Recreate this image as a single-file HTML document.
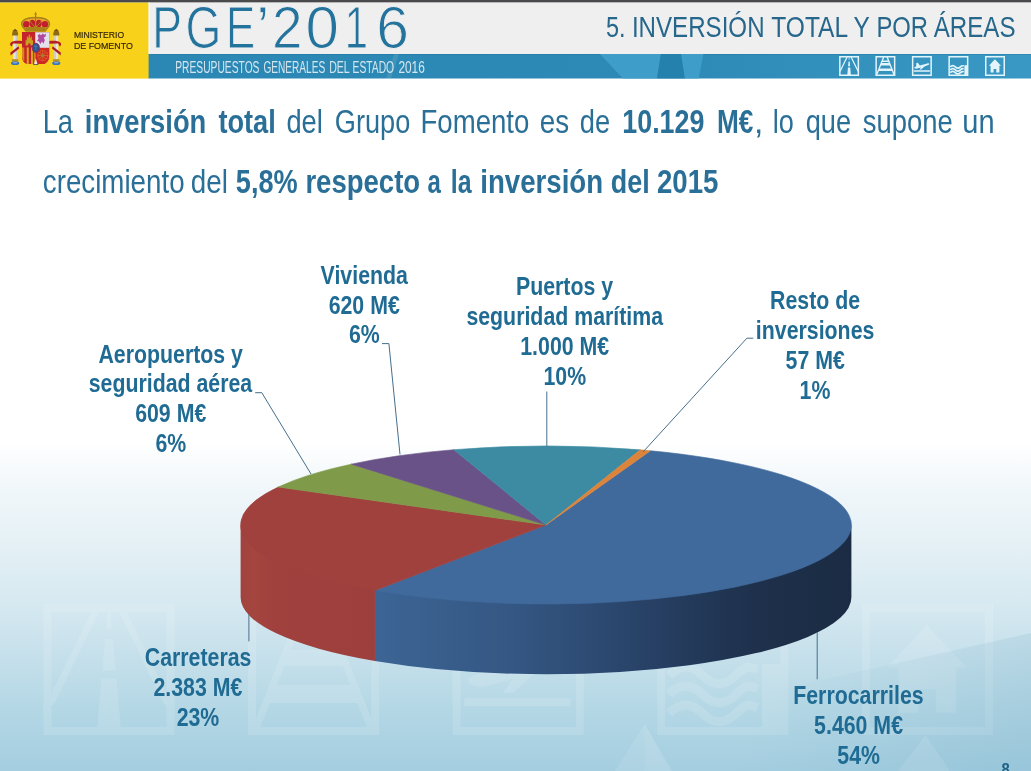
<!DOCTYPE html>
<html lang="es"><head><meta charset="utf-8"><title>PGE 2016 - 5. Inversión total y por áreas</title>
<style>
html,body{margin:0;padding:0;background:#fff;}
body{width:1031px;height:771px;overflow:hidden;font-family:"Liberation Sans",sans-serif;}
svg{display:block}
text{font-family:"Liberation Sans",sans-serif}
.lbl{font-weight:bold;font-size:25px;fill:#1f6b93}
</style></head><body>
<svg width="1031" height="771" viewBox="0 0 1031 771">
<defs>
<linearGradient id="bg" x1="0" y1="0" x2="0" y2="1">
<stop offset="0" stop-color="#ffffff"/>
<stop offset="0.575" stop-color="#ffffff"/>
<stop offset="0.63" stop-color="#f1f7fa"/>
<stop offset="0.70" stop-color="#e6f1f6"/>
<stop offset="0.78" stop-color="#d7e9f1"/>
<stop offset="0.92" stop-color="#b4d7e5"/>
<stop offset="1" stop-color="#a4cee0"/>
</linearGradient>
<linearGradient id="blueSide" gradientUnits="userSpaceOnUse" x1="375" y1="0" x2="852" y2="0">
<stop offset="0" stop-color="#3c6595"/>
<stop offset="0.3" stop-color="#345682"/>
<stop offset="0.5" stop-color="#2b476e"/>
<stop offset="0.65" stop-color="#243b5c"/>
<stop offset="0.8" stop-color="#1e304b"/>
<stop offset="1" stop-color="#1b2b43"/>
</linearGradient>
<linearGradient id="ray" gradientUnits="userSpaceOnUse" x1="780" y1="620" x2="1031" y2="700">
<stop offset="0" stop-color="#4f93b3" stop-opacity="0"/>
<stop offset="1" stop-color="#4f93b3" stop-opacity="0.14"/>
</linearGradient>
<linearGradient id="bar" gradientUnits="userSpaceOnUse" x1="148" y1="0" x2="1031" y2="0">
<stop offset="0" stop-color="#2b87b3"/>
<stop offset="0.6" stop-color="#2d8ab6"/>
<stop offset="1" stop-color="#3a99c4"/>
</linearGradient>
<linearGradient id="redSide" gradientUnits="userSpaceOnUse" x1="240" y1="0" x2="375" y2="0">
<stop offset="0" stop-color="#a2423e"/>
<stop offset="0.1" stop-color="#a5453f"/>
<stop offset="0.25" stop-color="#a0413e"/>
<stop offset="1" stop-color="#9d3f3c"/>
</linearGradient>
</defs>
<rect width="1031" height="771" fill="url(#bg)"/>

<g id="watermarks">
<g transform="translate(43.5,604) scale(6.5500)" fill="none" stroke="#ffffff" opacity="0.125"><rect x="0.6" y="0.6" width="18.8" height="18.8" stroke-width="1.2"/><path d="M8 1 L1 15.3 M12 1 L19 15.3" stroke-width="1.02"/><path d="M9.75 1 H10.25 L10.4 3.8 H9.6 Z M9.4 5.4 H10.6 L11 10.2 H9 Z M8.85 11.4 H11.15 L11.8 19 H8.2 Z" fill="#ffffff" stroke="none"/></g>
<g transform="translate(248.1,604) scale(6.5500)" fill="none" stroke="#ffffff" opacity="0.125"><rect x="0.6" y="0.6" width="18.8" height="18.8" stroke-width="1.2"/><path d="M8.3 1 L1.2 19 M11.7 1 L18.8 19" stroke-width="1.08"/><path d="M6.96 4.4 H13.04 L13.63 5.9 H6.37 Z M5.93 7.0 H14.07 L15.05 9.5 H4.95 Z M3.80 12.4 H16.20 L17.26 15.1 H2.74 Z " fill="#ffffff" stroke="none"/></g>
<g transform="translate(452.7,604) scale(6.5500)" fill="none" stroke="#ffffff" opacity="0.125"><rect x="0.6" y="0.6" width="18.8" height="18.8" stroke-width="1.2"/><path d="M1.8 15 H18" stroke-width="1.2"/><path d="M2.4 11.3 L4.3 10.4 L4.4 7 L5.9 6.8 L7.9 9.6 L15.4 7.5 C17.3 7 18.1 8 16.8 8.8 L12.6 10.4 L9.2 13.6 L7.6 13.6 L9.2 11.4 L5.2 12.5 C3.6 12.9 2.2 12.3 2.4 11.3 Z" fill="#ffffff" stroke="none"/></g>
<g transform="translate(657.3,604) scale(6.5500)" fill="none" stroke="#ffffff" opacity="0.125"><rect x="0.6" y="0.6" width="18.8" height="18.8" stroke-width="1.2"/><rect x="16" y="9.2" width="3.4" height="10.2" fill="#ffffff" stroke="none"/><path d="M1.8 10.9 c1.7 -1.7 3.4 -1.7 5.1 0 s3.4 1.7 5.1 0 s2.2 -1.3 3.3 -0.9" stroke-width="1.38"/><path d="M1.8 13.8 c1.7 -1.7 3.4 -1.7 5.1 0 s3.4 1.7 5.1 0 s2.2 -1.3 3.3 -0.9" stroke-width="1.38"/><path d="M1.8 16.7 c1.7 -1.7 3.4 -1.7 5.1 0 s3.4 1.7 5.1 0 s2.2 -1.3 3.3 -0.9" stroke-width="1.38"/></g>
<g transform="translate(861.9,604) scale(6.5500)" fill="none" stroke="#ffffff" opacity="0.125"><rect x="0.6" y="0.6" width="18.8" height="18.8" stroke-width="1.2"/><path d="M9.9 3.2 L3.9 9.7 H5.6 V16.6 H8.6 V13 H11.3 V16.6 H14.4 V9.7 H16 Z" fill="#ffffff" stroke="none"/></g>
</g>
<path d="M1031 632 L880 664 L1031 664 Z" fill="#ffffff" opacity="0.0"/>
<path d="M644.5 724 L615 771 H672 Z" fill="#ffffff" opacity="0.10"/>
<path d="M644.5 724 L644.5 771 H672 Z" fill="#ffffff" opacity="0.06"/>
<path d="M925.5 735.5 L898 771 H950 Z" fill="#ffffff" opacity="0.12"/>
<path d="M1031 771 V633 L740 698.3 V771 Z" fill="url(#ray)"/>
<rect x="0" y="0" width="1031" height="2.6" fill="#4a4a4c"/>
<rect x="148" y="2.6" width="883" height="51.4" fill="#efefef"/>
<rect x="148" y="54" width="883" height="24.5" fill="url(#bar)"/><rect x="148" y="54" width="883" height="1" fill="#1d6f98" opacity="0.35"/><path d="M386 78.5 L394 54 H399 L391 78.5 Z" fill="#ffffff" opacity="0.10"/>
<path d="M600 54 L661 54 L657 78.5 L623 78.5 Z" fill="#3f9dc9"/>
<path d="M661 54 L681 54 L685 78.5 L657 78.5 Z" fill="#2481ad"/>
<path d="M681 54 L703.5 54 L698.7 78.5 L685 78.5 Z" fill="#3f9dc9"/>
<rect x="0" y="2.6" width="148.6" height="76" fill="#f8d21a"/><rect x="148.6" y="2.6" width="1.2" height="51.4" fill="#fbfbf6"/>
<g id="escudo">
<rect x="13.2" y="35.2" width="3.8" height="24.2" fill="#e6e3e2"/>
<rect x="15.6" y="35.2" width="1.4" height="24.2" fill="#c9c6cc"/>
<path d="M12.1 35.6 V33.4 L12.899999999999999 31 H17.3 L18.1 33.4 V35.6 Z" fill="#8f6a14"/>
<path d="M12.5 31 L15.1 28.8 L17.7 31 Z" fill="#7a5510"/>
<rect x="11.899999999999999" y="59.2" width="6.4" height="2.4" fill="#b8902a"/>
<ellipse cx="15.1" cy="63.2" rx="4.1" ry="1.9" fill="#3b72b8"/>
<ellipse cx="15.1" cy="62.8" rx="2.6" ry="0.7" fill="#7fa9dc"/>
<rect x="54.4" y="35.2" width="3.8" height="24.2" fill="#e6e3e2"/>
<rect x="54.4" y="35.2" width="1.4" height="24.2" fill="#c9c6cc"/>
<path d="M53.3 35.6 V33.4 L54.099999999999994 31 H58.5 L59.3 33.4 V35.6 Z" fill="#8f6a14"/>
<path d="M53.699999999999996 31 L56.3 28.8 L58.9 31 Z" fill="#7a5510"/>
<rect x="53.099999999999994" y="59.2" width="6.4" height="2.4" fill="#b8902a"/>
<ellipse cx="56.3" cy="63.2" rx="4.1" ry="1.9" fill="#3b72b8"/>
<ellipse cx="56.3" cy="62.8" rx="2.6" ry="0.7" fill="#7fa9dc"/>
<path d="M22 41 C17 40.4 12.6 40.8 10.8 42.4 C9.6 43.6 10 45.6 11.6 46.4 L12.6 44.6 C12.2 43.8 13 43.4 14 43.4 L22 43.8 Z" fill="#b3202a"/>
<path d="M10.4 52.6 L18.6 46.2 L19.2 48.6 L12 54.2 L10.6 55.6 Z" fill="#a81c2c"/>
<path d="M49.2 41 C54.2 40.4 58.6 40.8 60.4 42.4 C61.6 43.6 61.2 45.6 59.6 46.4 L58.6 44.6 C59 43.8 58.2 43.4 57.2 43.4 L49.2 43.8 Z" fill="#b3202a"/>
<path d="M60.8 52.6 L52.6 46.2 L52 48.6 L59.2 54.2 L60.6 55.6 Z" fill="#a81c2c"/>
<path d="M22 32.1 H49.2 V55.5 C49.2 61 45.6 64.1 42.8 64.1 H28.5 C25 64.1 22 61 22 56 Z" fill="#c5232b"/>
<path d="M35.2 32.2 H49.2 V47.8 H35.2 Z" fill="#e3e1ea"/>
<path d="M37.6 35.4 l1.8 -1.4 l1.6 1.2 l1.8 -1.8 l1.4 1.4 l1.8 -1 l-.4 2.6 l-1.8 1.2 l1 2.6 l-1.4 3.6 l-1.4 -2.2 l-1.8 2.6 l-1.2 -2.8 l-2 -.4 l1.6 -2.4 z" fill="#b04aa0"/>
<path d="M22 47.4 H35.4 V64.1 H28.5 C25 64.1 22 61 22 56 Z" fill="#c5232b"/>
<path d="M22 47.4 H24.3 V61.6 C22.8 60.2 22 58.2 22 56 Z" fill="#d9871f"/>
<rect x="26.7" y="47.4" width="2.1" height="16.7" fill="#dba01e"/>
<rect x="31.0" y="47.4" width="2.1" height="16.7" fill="#dba01e"/>
<rect x="34.2" y="52" width="1.3" height="12" fill="#dba01e"/>
<path d="M25.6 45.6 V40.2 h1.2 V36.4 h1 v1.4 h.9 V34.8 h1.2 v3 h.9 v-1.4 h1 v3.8 h1.2 v5.4 h-2.5 v-2.2 h-2.3 v2.2 z" fill="#c9a01c"/>
<path d="M36.4 48 H49.2 V55.5 C49.2 61 45.8 64.1 42.8 64.1 C39.8 64.1 36.4 61 36.4 55.5 Z" fill="#d02a22"/>
<circle cx="42.8" cy="55.6" r="5" fill="none" stroke="#e0752a" stroke-width="1" stroke-dasharray="1.2 0.8"/>
<path d="M42.8 50.6 V60.6 M37.8 55.6 H47.8 M39.3 52.1 L46.3 59.1 M46.3 52.1 L39.3 59.1" stroke="#e0752a" stroke-width=".7" fill="none"/>
<circle cx="42.8" cy="55.6" r="1.5" fill="#8c8a2a"/>
<path d="M35.8 58.2 L37.4 64 H34.2 Z" fill="#eeeae6"/>
<rect x="33.2" y="64" width="5.2" height="0.9" fill="#5a5a48"/>
<ellipse cx="35.8" cy="47.8" rx="3.5" ry="4.5" fill="#2a5596" stroke="#8a2a5c" stroke-width="1"/>
<path d="M35.8 45 V50.4 M34.4 46.6 H37.2" stroke="#3f8f9a" stroke-width=".7"/>
<path d="M21 24.4 C20.4 19.4 27 16.5 35.6 16.7 C44.2 16.5 50.8 19.4 50.2 24.4 C49.8 27 47 29.4 45.6 31.6 H25.6 C24.2 29.4 21.4 27 21 24.4 Z" fill="#a9821a"/>
<path d="M22.6 24 C22.4 20.4 28 18.3 35.6 18.5 C43.2 18.3 48.8 20.4 48.6 24 C48.2 26 46.4 27.4 45.4 28.6 H25.8 C24.8 27.4 23 26 22.6 24 Z" fill="#f0a92a"/>
<ellipse cx="26.3" cy="24.3" rx="3.2" ry="3.3" fill="#c0202c"/>
<ellipse cx="32.4" cy="23.4" rx="2.9" ry="3.6" fill="#c0202c"/>
<ellipse cx="38.8" cy="23.4" rx="2.9" ry="3.6" fill="#c0202c"/>
<ellipse cx="44.9" cy="24.3" rx="3.2" ry="3.3" fill="#c0202c"/>
<path d="M26.2 27 H45 L45.6 31.6 H25.6 Z" fill="#a9821a"/>
<path d="M35.6 12.3 V28 M34.4 14.2 H36.8" stroke="#a9821a" stroke-width="1.2" fill="none"/>
<path d="M29.4 20.5 L35.6 28 L41.8 20.5" stroke="#a9821a" stroke-width="0.9" fill="none"/>
</g>
<text x="73.9" y="38.3" font-size="8.6" fill="#35270a" stroke="#35270a" stroke-width="0.18" textLength="50.2" lengthAdjust="spacingAndGlyphs">MINISTERIO</text>
<text x="73.9" y="48.7" font-size="8.6" fill="#35270a" stroke="#35270a" stroke-width="0.18" textLength="58.9" lengthAdjust="spacingAndGlyphs">DE FOMENTO</text>
<text id="pge" y="48.0" font-size="58.72" fill="#23739d" stroke="#efefef" stroke-width="1.0"><tspan x="152.35" textLength="29.71" lengthAdjust="spacingAndGlyphs">P</tspan><tspan x="185.60" textLength="35.85" lengthAdjust="spacingAndGlyphs">G</tspan><tspan x="226.01" textLength="29.17" lengthAdjust="spacingAndGlyphs">E</tspan><tspan x="256.10" textLength="13.60" lengthAdjust="spacingAndGlyphs">’</tspan><tspan x="271.96" textLength="30.49" lengthAdjust="spacingAndGlyphs">2</tspan><tspan x="305.56" textLength="33.39" lengthAdjust="spacingAndGlyphs">0</tspan><tspan x="344.83" textLength="23.23" lengthAdjust="spacingAndGlyphs">1</tspan><tspan x="376.20" textLength="32.69" lengthAdjust="spacingAndGlyphs">6</tspan></text>
<text y="72.85" font-size="16.9" fill="#ffffff" fill-opacity="0.8"><tspan x="175.26" textLength="84.21" lengthAdjust="spacingAndGlyphs">PRESUPUESTOS</tspan> <tspan x="263.39" textLength="61.87" lengthAdjust="spacingAndGlyphs">GENERALES</tspan> <tspan x="329.15" textLength="20.20" lengthAdjust="spacingAndGlyphs">DEL</tspan> <tspan x="352.56" textLength="41.53" lengthAdjust="spacingAndGlyphs">ESTADO</tspan> <tspan x="398.41" textLength="26.42" lengthAdjust="spacingAndGlyphs">2016</tspan></text>
<text y="36.7" font-size="30.2" fill="#26678b"><tspan x="606.06" textLength="19.57" lengthAdjust="spacingAndGlyphs">5.</tspan> <tspan x="631.88" textLength="132.67" lengthAdjust="spacingAndGlyphs">INVERSIÓN</tspan> <tspan x="771.27" textLength="75.94" lengthAdjust="spacingAndGlyphs">TOTAL</tspan> <tspan x="853.38" textLength="15.85" lengthAdjust="spacingAndGlyphs">Y</tspan> <tspan x="876.45" textLength="51.65" lengthAdjust="spacingAndGlyphs">POR</tspan> <tspan x="933.75" textLength="81.76" lengthAdjust="spacingAndGlyphs">ÁREAS</tspan></text>
<g transform="translate(839.1,56) scale(1.0000)" fill="none" stroke="#e2f5fd" opacity="1"><rect x="0.75" y="0.75" width="18.5" height="18.5" stroke-width="1.5"/><path d="M8 1 L1 15.3 M12 1 L19 15.3" stroke-width="1.275"/><path d="M9.75 1 H10.25 L10.4 3.8 H9.6 Z M9.4 5.4 H10.6 L11 10.2 H9 Z M8.85 11.4 H11.15 L11.8 19 H8.2 Z" fill="#e2f5fd" stroke="none"/></g>
<g transform="translate(875.4,56) scale(1.0000)" fill="none" stroke="#e2f5fd" opacity="1"><rect x="0.75" y="0.75" width="18.5" height="18.5" stroke-width="1.5"/><path d="M8.3 1 L1.2 19 M11.7 1 L18.8 19" stroke-width="1.35"/><path d="M6.96 4.4 H13.04 L13.63 5.9 H6.37 Z M5.93 7.0 H14.07 L15.05 9.5 H4.95 Z M3.80 12.4 H16.20 L17.26 15.1 H2.74 Z " fill="#e2f5fd" stroke="none"/></g>
<g transform="translate(911.9,56) scale(1.0000)" fill="none" stroke="#e2f5fd" opacity="1"><rect x="0.75" y="0.75" width="18.5" height="18.5" stroke-width="1.5"/><path d="M1.8 15 H18" stroke-width="1.5"/><path d="M2.4 11.3 L4.3 10.4 L4.4 7 L5.9 6.8 L7.9 9.6 L15.4 7.5 C17.3 7 18.1 8 16.8 8.8 L12.6 10.4 L9.2 13.6 L7.6 13.6 L9.2 11.4 L5.2 12.5 C3.6 12.9 2.2 12.3 2.4 11.3 Z" fill="#e2f5fd" stroke="none"/></g>
<g transform="translate(948.4,56) scale(1.0000)" fill="none" stroke="#e2f5fd" opacity="1"><rect x="0.75" y="0.75" width="18.5" height="18.5" stroke-width="1.5"/><rect x="16" y="9.2" width="3.4" height="10.2" fill="#e2f5fd" stroke="none"/><path d="M1.8 10.9 c1.7 -1.7 3.4 -1.7 5.1 0 s3.4 1.7 5.1 0 s2.2 -1.3 3.3 -0.9" stroke-width="1.7249999999999999"/><path d="M1.8 13.8 c1.7 -1.7 3.4 -1.7 5.1 0 s3.4 1.7 5.1 0 s2.2 -1.3 3.3 -0.9" stroke-width="1.7249999999999999"/><path d="M1.8 16.7 c1.7 -1.7 3.4 -1.7 5.1 0 s3.4 1.7 5.1 0 s2.2 -1.3 3.3 -0.9" stroke-width="1.7249999999999999"/></g>
<g transform="translate(985,56) scale(1.0000)" fill="none" stroke="#e2f5fd" opacity="1"><rect x="0.75" y="0.75" width="18.5" height="18.5" stroke-width="1.5"/><path d="M9.9 3.2 L3.9 9.7 H5.6 V16.6 H8.6 V13 H11.3 V16.6 H14.4 V9.7 H16 Z" fill="#e2f5fd" stroke="none"/></g>
<text y="133.1" font-size="34" fill="#2a6f97"><tspan x="42.65" textLength="30.45" lengthAdjust="spacingAndGlyphs">La</tspan> <tspan x="84.79" textLength="121.50" lengthAdjust="spacingAndGlyphs" font-weight="bold">inversión</tspan> <tspan x="218.47" textLength="57.25" lengthAdjust="spacingAndGlyphs" font-weight="bold">total</tspan> <tspan x="286.45" textLength="36.39" lengthAdjust="spacingAndGlyphs">del</tspan> <tspan x="334.84" textLength="75.51" lengthAdjust="spacingAndGlyphs">Grupo</tspan> <tspan x="420.44" textLength="108.93" lengthAdjust="spacingAndGlyphs">Fomento</tspan> <tspan x="539.83" textLength="29.37" lengthAdjust="spacingAndGlyphs">es</tspan> <tspan x="579.85" textLength="30.36" lengthAdjust="spacingAndGlyphs">de</tspan> <tspan x="622.31" textLength="82.10" lengthAdjust="spacingAndGlyphs" font-weight="bold">10.129</tspan> <tspan x="716.94" textLength="36.41" lengthAdjust="spacingAndGlyphs" font-weight="bold">M€</tspan> <tspan x="754.07" textLength="9.36" lengthAdjust="spacingAndGlyphs">,</tspan> <tspan x="772.79" textLength="21.06" lengthAdjust="spacingAndGlyphs">lo</tspan> <tspan x="805.76" textLength="45.35" lengthAdjust="spacingAndGlyphs">que</tspan> <tspan x="862.83" textLength="89.97" lengthAdjust="spacingAndGlyphs">supone</tspan> <tspan x="962.31" textLength="32.28" lengthAdjust="spacingAndGlyphs">un</tspan></text>
<text y="192.6" font-size="34" fill="#2a6f97"><tspan x="42.84" textLength="141.72" lengthAdjust="spacingAndGlyphs">crecimiento</tspan> <tspan x="190.83" textLength="37.04" lengthAdjust="spacingAndGlyphs">del</tspan> <tspan x="235.86" textLength="61.85" lengthAdjust="spacingAndGlyphs" font-weight="bold">5,8%</tspan> <tspan x="305.38" textLength="114.78" lengthAdjust="spacingAndGlyphs" font-weight="bold">respecto</tspan> <tspan x="427.40" textLength="13.33" lengthAdjust="spacingAndGlyphs" font-weight="bold">a</tspan> <tspan x="450.86" textLength="20.77" lengthAdjust="spacingAndGlyphs" font-weight="bold">la</tspan> <tspan x="480.27" textLength="122.84" lengthAdjust="spacingAndGlyphs" font-weight="bold">inversión</tspan> <tspan x="610.80" textLength="38.91" lengthAdjust="spacingAndGlyphs" font-weight="bold">del</tspan> <tspan x="657.03" textLength="61.35" lengthAdjust="spacingAndGlyphs" font-weight="bold">2015</tspan></text>
<g id="pie">
<path d="M851.40 523.50 A305.4 79.0 0 0 1 374.97 588.95 L374.97 661.01 A305.4 76.9 0 0 0 851.40 597.30 Z" fill="url(#blueSide)"/>
<path d="M374.97 588.95 A305.4 79.0 0 0 1 240.60 523.50 L240.60 597.30 A305.4 76.9 0 0 0 374.97 661.01 Z" fill="url(#redSide)"/>
<path d="M546.0 525.0 L650.45 450.76 A305.4 79.0 0 1 1 374.97 590.45 Z" fill="#40699c" stroke="#40699c" stroke-width="0.6"/>
<path d="M546.0 525.0 L374.97 590.45 A305.4 79.0 0 0 1 278.25 487.00 Z" fill="#a0413e" stroke="#a0413e" stroke-width="0.6"/>
<path d="M546.0 525.0 L278.25 487.00 A305.4 79.0 0 0 1 351.32 464.13 Z" fill="#7f9a49" stroke="#7f9a49" stroke-width="0.6"/>
<path d="M546.0 525.0 L351.32 464.13 A305.4 79.0 0 0 1 453.82 449.68 Z" fill="#695287" stroke="#695287" stroke-width="0.6"/>
<path d="M546.0 525.0 L453.82 449.68 A305.4 79.0 0 0 1 640.24 449.86 Z" fill="#3d8ba2" stroke="#3d8ba2" stroke-width="0.6"/>
<path d="M546.0 525.0 L640.24 449.86 A305.4 79.0 0 0 1 650.45 450.76 Z" fill="#dc843c" stroke="#dc843c" stroke-width="0.6"/>
</g>
<g fill="none" stroke="#466f8c" stroke-width="1">
<path d="M382 343.6 H388.9 L400 454.5"/>
<path d="M255.2 392.7 H261.8 L311 474"/>
<path d="M546.8 391.5 V446"/>
<path d="M753.3 338.2 H746.9 L643 452"/>
<path d="M248.9 614.3 V641.4"/>
<path d="M817.2 632.2 V679.3"/>
</g>
<text class="lbl" x="320.59" y="283.6" textLength="87.32" lengthAdjust="spacingAndGlyphs">Vivienda</text>
<text class="lbl" x="328.63" y="313.6" textLength="71.13" lengthAdjust="spacingAndGlyphs">620 M€</text>
<text class="lbl" x="348.88" y="343.4" textLength="30.82" lengthAdjust="spacingAndGlyphs">6%</text>
<text class="lbl" x="98.41" y="362.6" textLength="144.57" lengthAdjust="spacingAndGlyphs">Aeropuertos y</text>
<text class="lbl" x="88.67" y="392.2" textLength="163.57" lengthAdjust="spacingAndGlyphs">seguridad aérea</text>
<text class="lbl" x="135.13" y="421.8" textLength="71.13" lengthAdjust="spacingAndGlyphs">609 M€</text>
<text class="lbl" x="155.38" y="452.0" textLength="30.82" lengthAdjust="spacingAndGlyphs">6%</text>
<text class="lbl" x="515.95" y="294.8" textLength="97.18" lengthAdjust="spacingAndGlyphs">Puertos y</text>
<text class="lbl" x="466.39" y="324.7" textLength="196.73" lengthAdjust="spacingAndGlyphs">seguridad marítima</text>
<text class="lbl" x="520.26" y="354.8" textLength="88.91" lengthAdjust="spacingAndGlyphs">1.000 M€</text>
<text class="lbl" x="543.47" y="384.7" textLength="42.68" lengthAdjust="spacingAndGlyphs">10%</text>
<text class="lbl" x="770.02" y="308.8" textLength="90.06" lengthAdjust="spacingAndGlyphs">Resto de</text>
<text class="lbl" x="755.83" y="338.6" textLength="118.53" lengthAdjust="spacingAndGlyphs">inversiones</text>
<text class="lbl" x="785.62" y="368.6" textLength="59.27" lengthAdjust="spacingAndGlyphs">57 M€</text>
<text class="lbl" x="799.60" y="398.5" textLength="30.82" lengthAdjust="spacingAndGlyphs">1%</text>
<text class="lbl" x="144.76" y="665.8" textLength="106.70" lengthAdjust="spacingAndGlyphs">Carreteras</text>
<text class="lbl" x="153.46" y="695.7" textLength="88.91" lengthAdjust="spacingAndGlyphs">2.383 M€</text>
<text class="lbl" x="176.67" y="725.7" textLength="42.68" lengthAdjust="spacingAndGlyphs">23%</text>
<text class="lbl" x="793.22" y="704.4" textLength="130.40" lengthAdjust="spacingAndGlyphs">Ferrocarriles</text>
<text class="lbl" x="814.10" y="734.3" textLength="88.91" lengthAdjust="spacingAndGlyphs">5.460 M€</text>
<text class="lbl" x="837.31" y="764.2" textLength="42.68" lengthAdjust="spacingAndGlyphs">54%</text>
<text x="1001.53" y="774.8" font-size="16.8" font-weight="bold" fill="#1f6285" textLength="8.24" lengthAdjust="spacingAndGlyphs">8</text>
</svg></body></html>
